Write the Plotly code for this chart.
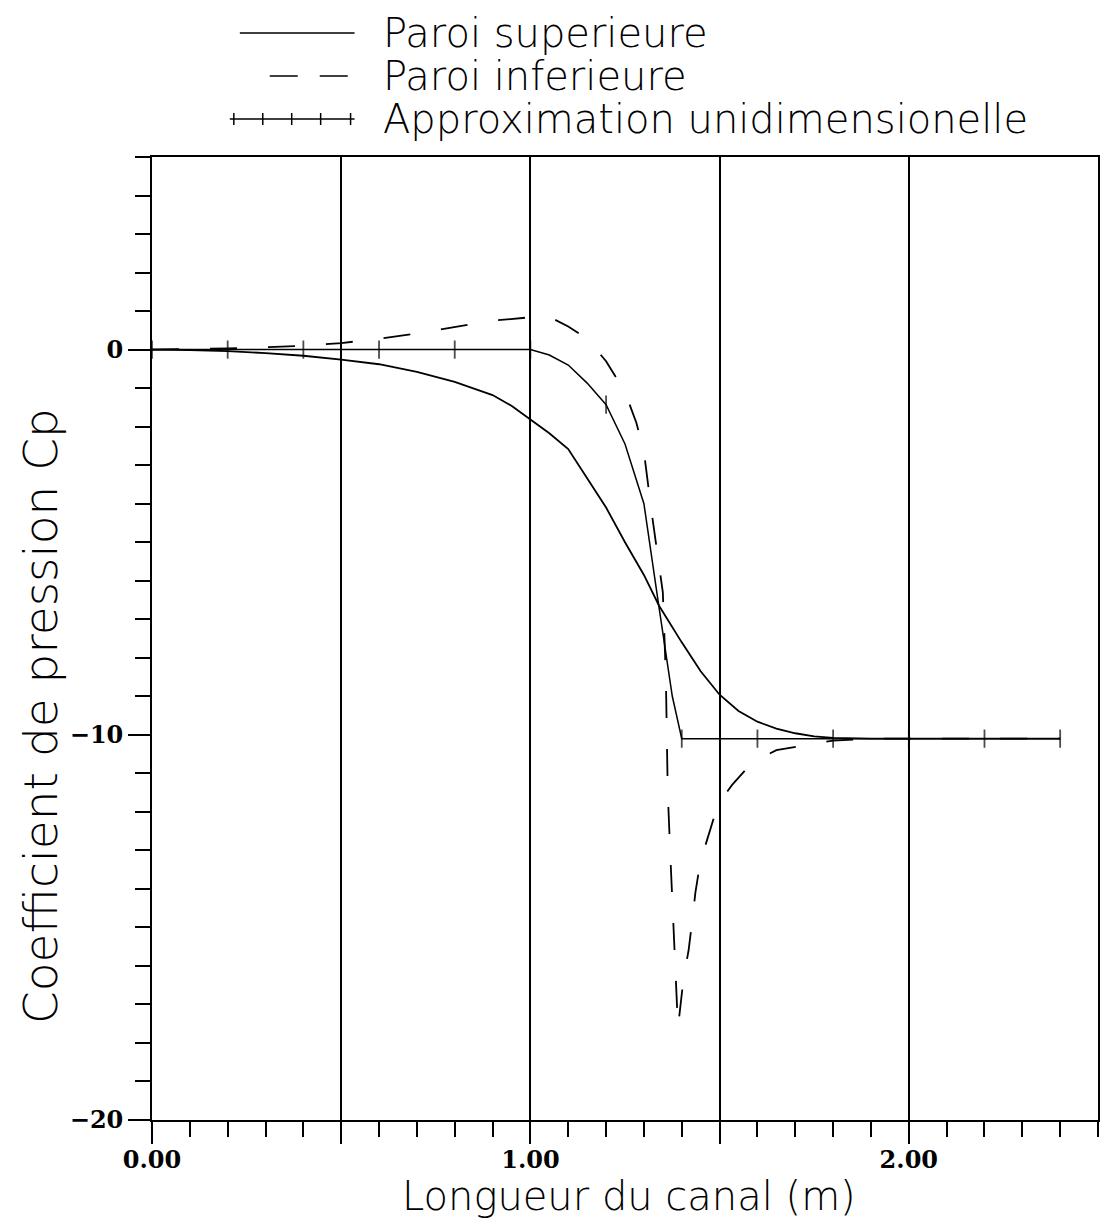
import plotly.graph_objects as go

# ---------------- data ----------------
sup_x = [0.0, 0.1, 0.2, 0.3, 0.4, 0.5, 0.6, 0.7, 0.8, 0.9, 0.95, 1.0, 1.05, 1.1, 1.15,
         1.2, 1.25, 1.3, 1.34, 1.4, 1.45, 1.5, 1.55, 1.6, 1.65, 1.7, 1.75, 1.8, 1.9,
         2.0, 2.2, 2.4]
sup_y = [0.0, -0.01, -0.04, -0.09, -0.16, -0.26, -0.38, -0.58, -0.84, -1.18, -1.46, -1.82,
         -2.17, -2.58, -3.35, -4.1, -5.0, -5.85, -6.65, -7.6, -8.35, -8.96, -9.38, -9.66,
         -9.84, -9.96, -10.04, -10.08, -10.1, -10.1, -10.1, -10.1]

inf_x = [0.0, 0.1, 0.2, 0.3, 0.4, 0.5, 0.6, 0.7, 0.8, 0.9, 1.0, 1.05, 1.1, 1.15, 1.2,
         1.25, 1.28, 1.3, 1.32, 1.34, 1.35, 1.358, 1.363, 1.371, 1.379, 1.385, 1.39,
         1.405, 1.418, 1.428, 1.436, 1.449, 1.47, 1.496, 1.533, 1.585, 1.65, 1.73, 1.8,
         1.9, 2.0, 2.2, 2.4]
inf_y = [0.0, 0.01, 0.03, 0.06, 0.1, 0.17, 0.28, 0.42, 0.58, 0.75, 0.84, 0.85, 0.6, 0.28,
         -0.3, -1.1, -1.9, -2.65, -4.2, -5.6, -6.3, -8.5, -11.5, -13.4, -15.0, -16.5, -17.6,
         -16.3, -15.6, -14.8, -14.1, -13.3, -12.6, -11.8, -11.3, -10.73, -10.4, -10.26, -10.15,
         -10.1, -10.1, -10.1, -10.1]

app_x = [0.0, 0.2, 0.4, 0.6, 0.8, 1.0, 1.05, 1.1, 1.15, 1.2, 1.25, 1.3, 1.34, 1.375,
         1.4, 1.6, 1.8, 2.0, 2.2, 2.4]
app_y = [0.0, 0.0, 0.0, 0.0, 0.0, 0.0, -0.14, -0.4, -0.87, -1.43, -2.45, -4.0, -6.7, -9.0,
         -10.1, -10.1, -10.1, -10.1, -10.1, -10.1]

names = ["Paroi superieure", "Paroi inferieure", "Approximation unidimensionelle"]
x_ticks = [0.0, 0.5, 1.0, 1.5, 2.0]
x_ticktext = ["0.00", "", "1.00", "", "2.00"]
y_ticks = [0, -10, -20]
y_ticktext = ["0", "\u221210", "\u221220"]
x_title = "Longueur du canal (m)"
y_title = "Coefficient de pression Cp"

# ---------------- figure ----------------
TXT = "DejaVu Sans"
NUM = dict(family="DejaVu Serif", size=24, color="black", weight="bold")
W, H = 1101, 1214
ML, MR, MT, MB = 144, 9, 149, 102
PW, PH = W - ML - MR, H - MT - MB


def px(fx):   # figure pixel -> paper x
    return (fx - ML) / PW


def py(fy):   # figure pixel -> paper y
    return (H - MB - fy) / PH


fig = go.Figure()
fig.add_trace(go.Scatter(x=sup_x, y=sup_y, mode="lines", name=names[0],
                         line=dict(color="black", width=1.8)))
fig.add_trace(go.Scatter(x=inf_x, y=inf_y, mode="lines", name=names[1],
                         line=dict(color="black", width=1.8, dash="27px,31px")))
# tick markers only at every 0.2 m of the approximation
mark_sizes = [13 if abs(v * 5 - round(v * 5)) < 1e-6 else 0 for v in app_x]
fig.add_trace(go.Scatter(x=app_x, y=app_y, mode="lines+markers", name=names[2],
                         line=dict(color="black", width=1.5),
                         marker=dict(symbol="line-ns", size=mark_sizes,
                                     line=dict(color="black", width=1.8))))

# ---- legend drawn above the frame (text + key samples) ----
leg_rows = [25, 68, 111]        # figure-pixel centres of the three rows
shapes = []
annotations = []
for name, fy in zip(names, leg_rows):
    annotations.append(dict(text=name, xref="paper", yref="paper", x=px(373), y=py(fy),
                            xanchor="left", yanchor="middle", showarrow=False,
                            font=dict(family=TXT, size=40, color="black", weight=200)))
shapes.append(dict(type="line", xref="paper", yref="paper", x0=px(232), x1=px(347),
                   y0=py(leg_rows[0]), y1=py(leg_rows[0]), line=dict(color="black", width=1.5)))
shapes.append(dict(type="line", xref="paper", yref="paper", x0=px(262), x1=px(347),
                   y0=py(leg_rows[1]), y1=py(leg_rows[1]),
                   line=dict(color="black", width=1.5, dash="28px,22px")))
shapes.append(dict(type="line", xref="paper", yref="paper", x0=px(222), x1=px(347),
                   y0=py(leg_rows[2]), y1=py(leg_rows[2]), line=dict(color="black", width=1.5)))
for fx in [226, 255, 284, 313, 343]:
    shapes.append(dict(type="line", xref="paper", yref="paper", x0=px(fx), x1=px(fx),
                       y0=py(leg_rows[2] - 6), y1=py(leg_rows[2] + 6),
                       line=dict(color="black", width=1.5)))

annotations += [
    dict(text=x_title, xref="paper", yref="paper", x=0.504, y=0, yshift=-76,
         xanchor="center", yanchor="middle", showarrow=False,
         font=dict(family=TXT, size=40, color="black", weight=200)),
    dict(text=y_title, xref="paper", yref="paper", x=0, xshift=-112, y=py(708),
         xanchor="center", yanchor="middle", textangle=-90, showarrow=False,
         font=dict(family=TXT, size=47, color="black", weight=200)),
]

fig.update_layout(
    width=W, height=H,
    margin=dict(l=ML, r=MR, t=MT, b=MB),
    paper_bgcolor="white", plot_bgcolor="white",
    showlegend=False,
    xaxis=dict(range=[0, 2.5], tickvals=x_ticks, ticktext=x_ticktext,
               ticks="outside", ticklen=22, tickwidth=1.5, tickcolor="black",
               ticklabelstandoff=-5,
               minor=dict(dtick=0.1, tick0=0, ticks="outside", ticklen=15,
                          tickwidth=1.5, tickcolor="black", showgrid=False),
               showgrid=True, gridcolor="black", gridwidth=1.5,
               showline=True, linecolor="black", linewidth=1.8, mirror=True,
               zeroline=False, tickfont=NUM),
    yaxis=dict(range=[-20, 5], tickvals=y_ticks, ticktext=y_ticktext,
               ticks="outside", ticklen=22, tickwidth=1.5, tickcolor="black",
               minor=dict(dtick=1, tick0=0, ticks="outside", ticklen=15,
                          tickwidth=1.5, tickcolor="black", showgrid=False),
               showgrid=False,
               showline=True, linecolor="black", linewidth=1.8, mirror=True,
               zeroline=False, tickfont=NUM),
    shapes=shapes,
    annotations=annotations,
)

fig.write_html("out.html")
